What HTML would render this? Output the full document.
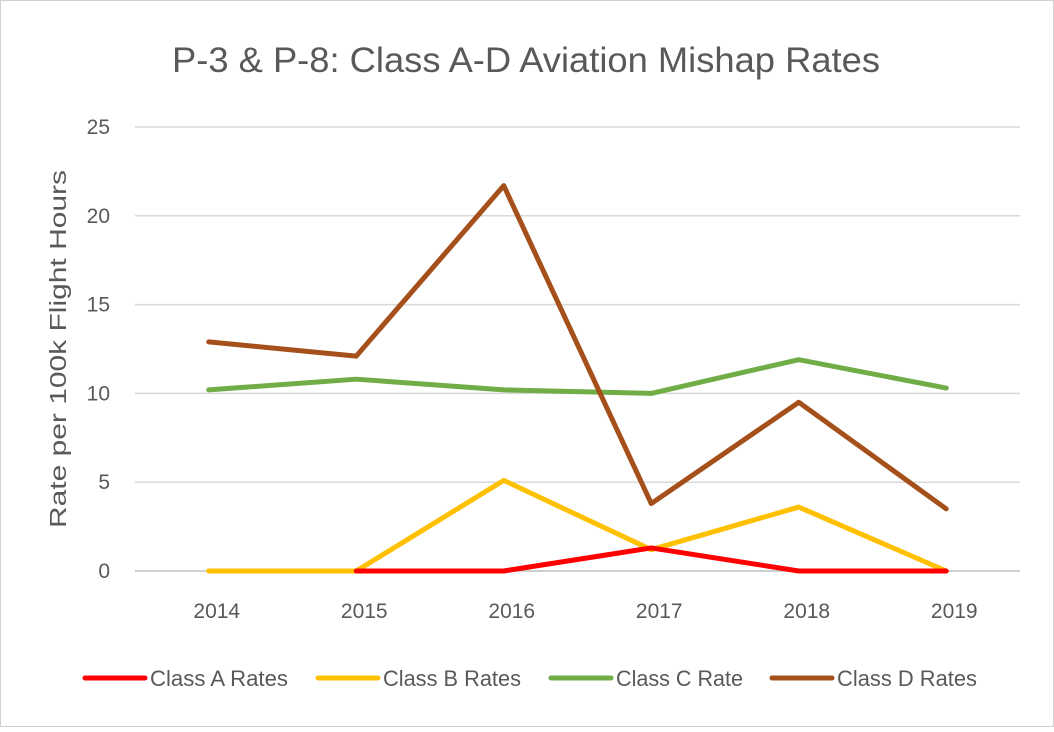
<!DOCTYPE html>
<html><head><meta charset="utf-8"><style>
body{margin:0;background:#fff;}
svg text{font-family:"Liberation Sans",sans-serif;fill:#595959;}
</style></head><body>
<svg width="1054" height="727">
<rect x="0.5" y="0.5" width="1053" height="726" fill="#fff" stroke="#d0d0d0"/>
<text x="172" y="72" font-size="35" textLength="708" lengthAdjust="spacingAndGlyphs">P-3 &amp; P-8: Class A-D Aviation Mishap Rates</text>
<text transform="translate(66,528) rotate(-90)" font-size="23" textLength="358" lengthAdjust="spacingAndGlyphs">Rate per 100k Flight Hours</text>
<g id="grid"></g><g id="lines"></g><g id="legend"></g>
</svg>
<script>
const years=["2014","2015","2016","2017","2018","2019"];
const yTicks=[0,5,10,15,20,25];
const classA=[null,0,0,1.3,0,0];
const classB=[0,0,5.1,1.2,3.6,0];
const classC=[10.2,10.8,10.2,10.0,11.9,10.3];
const classD=[12.9,12.1,21.7,3.8,9.5,3.5];
const seriesNames=["Class A Rates","Class B Rates","Class C Rate","Class D Rates"];
const ns="http://www.w3.org/2000/svg";
const L=135,R=1020,Y0=571,Ytop=127;
const band=(R-L)/years.length;
const x=i=>L+band*(i+0.5);
const y=v=>Y0-(v/25)*(Y0-Ytop);
function mk(t,a,p){const e=document.createElementNS(ns,t);for(const k in a)e.setAttribute(k,a[k]);p.appendChild(e);return e;}
const grid=document.getElementById('grid');
yTicks.forEach(v=>{
 const l=mk('line',{x1:L,x2:R,y1:y(v),y2:y(v),stroke:v===0?'#bfbfbf':'#d9d9d9','stroke-width':1.5},grid);
 
 
 const t=mk('text',{x:110,y:y(v)+7,'font-size':21,'text-anchor':'end'},grid);t.textContent=v;
 
 
});
years.forEach((yr,i)=>{
 const t=mk('text',{x:x(i)+8,y:618,'font-size':21,'text-anchor':'middle'},grid);t.textContent=yr;
 
 
});
const series=[classA,classB,classC,classD];
const colors=["#ff0000","#ffc000","#70ad47","#a5501b"];
const lines=document.getElementById('lines');
[1,0,2,3].forEach(s=>{
 const pts=series[s].map((v,i)=>v===null?null:x(i)+','+y(v)).filter(p=>p).join(' ');
 const p=mk('polyline',{points:pts,fill:'none',stroke:colors[s],'stroke-width':5,'stroke-linejoin':'round','stroke-linecap':'round'},lines);
 
 
});
const lg=document.getElementById('legend');
const lx=[85,318,551,772];
const lw=[138,138,127,140];
seriesNames.forEach((n,s)=>{
 const g=mk('g',{},lg);
 
 
 mk('line',{x1:lx[s],x2:lx[s]+60,y1:678,y2:678,stroke:colors[s],'stroke-width':5,'stroke-linecap':'round'},g);
 const t=mk('text',{x:lx[s]+65,y:686,'font-size':22,textLength:lw[s],lengthAdjust:'spacingAndGlyphs'},g);t.textContent=n;
});
</script>
</body></html>
